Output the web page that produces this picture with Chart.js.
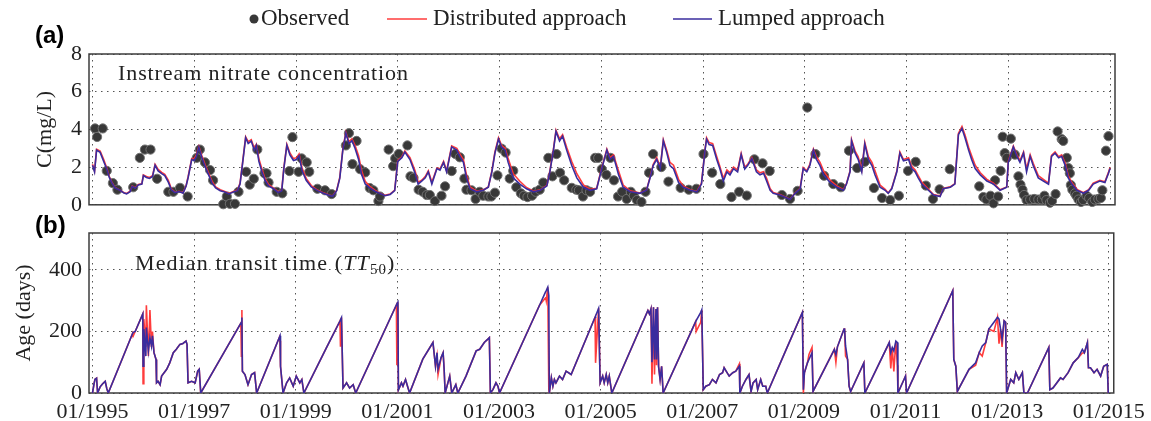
<!DOCTYPE html>
<html>
<head>
<meta charset="utf-8">
<script src="https://cdn.jsdelivr.net/npm/chart.js@4.4.1/dist/chart.umd.min.js"></script>
<style>
  html, body { margin: 0; padding: 0; background: #fff; }
  #wrap { position: relative; width: 1151px; height: 421px; overflow: hidden; }
  canvas { position: absolute; left: 0; }
  #concChart { top: 0; }
  #ageChart { top: 200px; }
</style>
</head>
<body>
<div id="wrap">
  <canvas id="concChart" width="1151" height="225"></canvas>
  <canvas id="ageChart" width="1151" height="221"></canvas>
</div>
<script>
// tick years shown on the shared time axis
const tickYears = [1995, 1997, 1999, 2001, 2003, 2005, 2007, 2009, 2011, 2013, 2015];

// (a) instream nitrate concentration, mg/L (decimal years)
const concYears = [
  1995.00, 1995.04, 1995.08, 1995.15, 1995.22, 1995.28, 1995.33, 1995.38, 1995.44, 1995.54,
  1995.62, 1995.67, 1995.74, 1995.78, 1995.84, 1995.90, 1995.97, 1996.00, 1996.06, 1996.12,
  1996.18, 1996.23, 1996.29, 1996.36, 1996.42, 1996.49, 1996.55, 1996.62, 1996.70, 1996.78,
  1996.84, 1996.88, 1996.95, 1997.00, 1997.04, 1997.09, 1997.15, 1997.21, 1997.28, 1997.35,
  1997.42, 1997.51, 1997.60, 1997.68, 1997.77, 1997.85, 1997.90, 1997.95, 1998.01, 1998.06,
  1998.12, 1998.18, 1998.22, 1998.27, 1998.33, 1998.39, 1998.46, 1998.56, 1998.65, 1998.72,
  1998.76, 1998.82, 1998.88, 1998.95, 1999.01, 1999.06, 1999.12, 1999.20, 1999.30, 1999.42,
  1999.55, 1999.65, 1999.72, 1999.80, 1999.86, 1999.92, 1999.98, 2000.04, 2000.10, 2000.16,
  2000.23, 2000.29, 2000.36, 2000.45, 2000.55, 2000.65, 2000.75, 2000.85, 2000.94, 2001.00,
  2001.08, 2001.14, 2001.24, 2001.34, 2001.40, 2001.47, 2001.54, 2001.60, 2001.67, 2001.77,
  2001.83, 2001.90, 2001.96, 2002.06, 2002.16, 2002.22, 2002.29, 2002.35, 2002.42, 2002.55,
  2002.68, 2002.78, 2002.85, 2002.91, 2002.98, 2003.04, 2003.11, 2003.17, 2003.27, 2003.40,
  2003.53, 2003.67, 2003.80, 2003.93, 2003.99, 2004.06, 2004.11, 2004.18, 2004.24, 2004.32,
  2004.42, 2004.52, 2004.65, 2004.78, 2004.91, 2005.01, 2005.11, 2005.17, 2005.24, 2005.34,
  2005.43, 2005.57, 2005.76, 2005.89, 2005.96, 2006.02, 2006.09, 2006.16, 2006.22, 2006.29,
  2006.35, 2006.42, 2006.52, 2006.61, 2006.75, 2006.88, 2006.97, 2007.04, 2007.07, 2007.12,
  2007.19, 2007.27, 2007.33, 2007.40, 2007.47, 2007.53, 2007.60, 2007.68, 2007.75, 2007.82,
  2007.88, 2007.96, 2008.05, 2008.12, 2008.19, 2008.25, 2008.32, 2008.38, 2008.51, 2008.65,
  2008.71, 2008.81, 2008.91, 2008.97, 2009.04, 2009.10, 2009.17, 2009.23, 2009.30, 2009.37,
  2009.50, 2009.63, 2009.76, 2009.82, 2009.89, 2009.92, 2009.99, 2010.05, 2010.12, 2010.18,
  2010.25, 2010.32, 2010.38, 2010.48, 2010.58, 2010.64, 2010.71, 2010.81, 2010.87, 2010.94,
  2011.04, 2011.10, 2011.17, 2011.23, 2011.30, 2011.40, 2011.53, 2011.66, 2011.72, 2011.86,
  2011.95, 2012.02, 2012.09, 2012.15, 2012.22, 2012.28, 2012.35, 2012.45, 2012.58, 2012.71,
  2012.84, 2012.97, 2013.00, 2013.10, 2013.17, 2013.23, 2013.30, 2013.36, 2013.43, 2013.49,
  2013.59, 2013.69, 2013.79, 2013.85, 2013.92, 2013.99, 2014.05, 2014.12, 2014.18, 2014.25,
  2014.35, 2014.48, 2014.58, 2014.67, 2014.80, 2014.90, 2014.97, 2015.00
];
const concLumped = [
  2.10, 1.75, 2.90, 2.78, 2.30, 1.90, 1.45, 1.18, 0.90, 0.77,
  0.62, 0.58, 0.70, 0.98, 0.88, 1.05, 1.10, 1.55, 1.45, 1.40,
  1.50, 2.10, 1.80, 1.65, 1.55, 1.20, 0.80, 0.65, 0.70, 0.62,
  1.00, 1.45, 2.40, 2.35, 2.55, 3.05, 2.50, 2.05, 1.60, 1.15,
  0.90, 0.75, 0.68, 0.58, 0.68, 0.75, 1.10, 2.20, 3.56, 3.25,
  3.38, 2.90, 3.15, 2.30, 1.75, 1.30, 1.00, 0.85, 0.65, 0.75,
  1.90, 3.15, 2.65, 2.35, 2.40, 2.60, 1.80, 1.30, 0.95, 0.75,
  0.60, 0.50, 0.45, 0.75, 1.40, 2.90, 3.80, 3.25, 3.40, 3.00,
  2.40, 1.60, 1.10, 0.90, 0.72, 0.60, 0.48, 0.55, 0.75, 2.30,
  2.50, 2.80, 2.40, 1.67, 1.10, 1.26, 1.43, 1.75, 1.10, 1.92,
  1.84, 2.25, 1.75, 3.07, 2.90, 2.57, 2.25, 1.43, 0.85, 0.69,
  0.77, 0.93, 1.75, 2.74, 3.48, 3.07, 2.90, 2.25, 1.43, 1.10,
  0.85, 0.69, 0.77, 1.00, 1.75, 2.90, 3.89, 3.39, 3.64, 2.90,
  2.08, 1.43, 0.93, 0.77, 0.85, 1.92, 2.90, 2.41, 2.57, 1.59,
  0.93, 0.69, 0.61, 0.77, 1.43, 2.08, 2.41, 1.92, 3.39, 2.74,
  2.08, 1.92, 1.18, 0.93, 0.77, 0.69, 1.10, 2.90, 3.48, 3.20,
  3.15, 2.40, 1.92, 1.26, 1.75, 1.59, 1.92, 1.75, 2.66, 1.90,
  2.10, 2.45, 1.75, 1.59, 1.67, 1.26, 0.77, 0.61, 0.52, 0.36,
  0.28, 0.61, 0.85, 1.92, 1.75, 2.08, 2.90, 2.41, 2.08, 1.59,
  1.18, 0.93, 0.77, 1.10, 1.75, 3.39, 2.74, 2.41, 1.75, 3.23,
  2.41, 2.08, 1.59, 0.93, 0.77, 0.61, 0.85, 1.75, 2.74, 2.33,
  2.41, 1.92, 1.75, 1.43, 1.10, 0.85, 0.52, 0.44, 0.85, 0.93,
  1.10, 3.72, 4.05, 3.56, 2.90, 2.41, 1.92, 1.59, 1.26, 1.10,
  0.77, 0.93, 2.25, 3.07, 2.57, 2.25, 2.74, 1.75, 2.57, 2.08,
  1.43, 1.26, 1.10, 2.57, 2.74, 2.49, 2.57, 2.08, 1.43, 1.10,
  0.77, 0.61, 0.77, 1.10, 1.26, 1.18, 1.67, 1.92
];
const concDistributed = [
  2.15, 1.80, 2.95, 2.85, 2.40, 1.95, 1.50, 1.20, 0.92, 0.78,
  0.64, 0.60, 0.72, 1.00, 0.90, 1.08, 1.12, 1.58, 1.50, 1.45,
  1.55, 2.15, 1.88, 1.72, 1.62, 1.30, 0.85, 0.67, 0.72, 0.64,
  1.02, 1.50, 2.45, 2.45, 2.65, 3.10, 2.60, 2.15, 1.70, 1.25,
  0.95, 0.80, 0.70, 0.60, 0.70, 0.78, 1.15, 2.25, 3.60, 3.35,
  3.45, 3.00, 3.20, 2.45, 1.90, 1.40, 1.08, 0.88, 0.68, 0.78,
  1.95, 3.20, 2.75, 2.45, 2.50, 2.70, 1.95, 1.40, 1.02, 0.78,
  0.62, 0.52, 0.47, 0.78, 1.45, 2.95, 3.85, 3.35, 3.50, 3.15,
  2.60, 1.80, 1.25, 0.98, 0.78, 0.62, 0.50, 0.57, 0.78, 2.35,
  2.55, 2.85, 2.50, 1.80, 1.20, 1.30, 1.50, 1.80, 1.20, 1.95,
  1.90, 2.30, 1.80, 3.12, 3.00, 2.70, 2.40, 1.60, 0.95, 0.72,
  0.79, 0.95, 1.80, 2.80, 3.55, 3.15, 3.00, 2.45, 1.65, 1.25,
  0.92, 0.72, 0.79, 1.03, 1.80, 2.95, 3.95, 3.50, 3.72, 3.05,
  2.30, 1.65, 1.05, 0.82, 0.88, 1.97, 2.95, 2.50, 2.65, 1.80,
  1.05, 0.74, 0.63, 0.79, 1.48, 2.13, 2.50, 2.00, 3.45, 2.85,
  2.25, 2.10, 1.35, 1.00, 0.80, 0.71, 1.15, 2.95, 3.55, 3.30,
  3.25, 2.55, 2.05, 1.40, 1.85, 1.70, 2.00, 1.85, 2.72, 2.00,
  2.15, 2.50, 1.85, 1.70, 1.75, 1.40, 0.85, 0.65, 0.54, 0.38,
  0.30, 0.63, 0.88, 1.97, 1.80, 2.15, 2.95, 2.55, 2.25, 1.80,
  1.30, 1.00, 0.80, 1.12, 1.80, 3.45, 2.85, 2.55, 1.85, 3.30,
  2.55, 2.25, 1.80, 1.05, 0.82, 0.63, 0.88, 1.80, 2.80, 2.40,
  2.50, 2.05, 1.85, 1.55, 1.20, 0.92, 0.55, 0.46, 0.87, 0.95,
  1.12, 3.78, 4.15, 3.70, 3.05, 2.60, 2.10, 1.70, 1.35, 1.15,
  0.80, 0.95, 2.30, 3.12, 2.65, 2.35, 2.80, 1.90, 2.65, 2.20,
  1.55, 1.35, 1.15, 2.62, 2.80, 2.55, 2.65, 2.20, 1.55, 1.18,
  0.82, 0.64, 0.80, 1.15, 1.30, 1.22, 1.72, 1.98
];

// (a) observed samples
const obsYears = [
  1995.05, 1995.09, 1995.20, 1995.28, 1995.40, 1995.49, 1995.80, 1995.93, 1996.03, 1996.14,
  1996.27, 1996.49, 1996.59, 1996.72, 1996.87, 1997.05, 1997.11, 1997.21, 1997.31, 1997.37,
  1997.57, 1997.64, 1997.70, 1997.80, 1997.87, 1998.02, 1998.09, 1998.17, 1998.24, 1998.38,
  1998.42, 1998.46, 1998.62, 1998.73, 1998.87, 1998.93, 1999.05, 1999.11, 1999.21, 1999.26,
  1999.42, 1999.57, 1999.70, 1999.98, 2000.04, 2000.11, 2000.19, 2000.26, 2000.36, 2000.45,
  2000.52, 2000.62, 2000.65, 2000.82, 2000.91, 2000.95, 2001.02, 2001.19, 2001.25, 2001.31,
  2001.41, 2001.49, 2001.57, 2001.63, 2001.73, 2001.86, 2001.93, 2002.06, 2002.13, 2002.22,
  2002.31, 2002.35, 2002.45, 2002.53, 2002.61, 2002.68, 2002.78, 2002.84, 2002.91, 2002.96,
  2003.04, 2003.12, 2003.20, 2003.27, 2003.33, 2003.42, 2003.48, 2003.55, 2003.64, 2003.71,
  2003.79, 2003.86, 2003.96, 2004.04, 2004.12, 2004.19, 2004.27, 2004.42, 2004.51, 2004.56,
  2004.64, 2004.71, 2004.78, 2004.88, 2004.94, 2005.01, 2005.10, 2005.18, 2005.25, 2005.33,
  2005.41, 2005.50, 2005.58, 2005.64, 2005.70, 2005.79, 2005.87, 2005.94, 2006.02, 2006.18,
  2006.32, 2006.56, 2006.72, 2006.87, 2007.01, 2007.18, 2007.34, 2007.56, 2007.71, 2007.86,
  2008.01, 2008.17, 2008.31, 2008.55, 2008.71, 2008.86, 2009.05, 2009.21, 2009.38, 2009.56,
  2009.71, 2009.87, 2010.03, 2010.18, 2010.36, 2010.52, 2010.68, 2010.85, 2011.03, 2011.18,
  2011.38, 2011.52, 2011.65, 2011.85, 2012.43, 2012.51, 2012.57, 2012.65, 2012.71, 2012.74,
  2012.80, 2012.85, 2012.89, 2012.93, 2012.97, 2013.05, 2013.13, 2013.20, 2013.24, 2013.28,
  2013.31, 2013.36, 2013.43, 2013.51, 2013.59, 2013.66, 2013.71, 2013.75, 2013.82, 2013.86,
  2013.93, 2013.97, 2014.05, 2014.08, 2014.15, 2014.18, 2014.21, 2014.23, 2014.26, 2014.31,
  2014.34, 2014.38, 2014.43, 2014.47, 2014.54, 2014.59, 2014.65, 2014.70, 2014.77, 2014.82,
  2014.85, 2014.92, 2014.97
];
const obsConc = [
  4.05, 3.60, 4.05, 1.80, 1.15, 0.80, 0.93, 2.49, 2.93, 2.93,
  1.38, 0.69, 0.69, 0.90, 0.44, 2.49, 2.93, 2.25, 1.84, 1.30,
  0.03, 0.44, 0.05, 0.05, 0.69, 1.75, 1.07, 1.38, 2.93, 1.67,
  1.67, 1.18, 0.69, 0.61, 1.79, 3.59, 1.75, 2.46, 2.25, 1.75,
  0.85, 0.77, 0.57, 3.15, 3.80, 2.16, 3.39, 1.89, 1.72, 0.89,
  0.77, 0.20, 0.44, 2.93, 2.05, 2.46, 2.70, 3.15, 1.51, 1.43,
  0.80, 0.69, 0.52, 0.52, 0.20, 0.48, 0.98, 1.79, 2.70, 2.52,
  1.39, 0.80, 0.77, 0.31, 0.69, 0.48, 0.44, 0.44, 0.64, 1.56,
  2.98, 2.77, 1.39, 1.80, 0.93, 0.61, 0.48, 0.41, 0.48, 0.69,
  0.80, 1.18, 2.49, 1.51, 2.69, 1.70, 1.30, 0.90, 0.80, 0.77,
  0.44, 0.77, 0.69, 2.49, 2.49, 1.89, 1.59, 2.49, 1.30, 0.44,
  0.69, 0.31, 0.69, 0.48, 0.25, 0.15, 0.69, 1.70, 2.69, 2.00,
  1.23, 0.90, 0.80, 0.85, 2.69, 1.70, 1.10, 0.41, 0.69, 0.49,
  2.41, 2.20, 1.79, 0.52, 0.31, 0.74, 5.16, 2.69, 1.54, 1.10,
  0.93, 2.87, 1.95, 2.28, 0.89, 0.36, 0.25, 0.48, 1.80, 2.28,
  1.02, 0.31, 0.82, 1.89, 0.98, 0.41, 0.28, 0.48, 0.08, 1.30,
  0.44, 1.80, 3.61, 2.74, 2.49, 3.51, 2.66, 1.51, 1.07, 0.80,
  0.52, 0.25, 0.28, 0.31, 0.28, 0.28, 0.48, 0.25, 0.11, 0.20,
  0.57, 3.89, 3.48, 3.39, 2.49, 1.95, 1.67, 1.05, 0.80, 0.61,
  0.48, 0.28, 0.15, 0.25, 0.48, 0.36, 0.15, 0.28, 0.31, 0.36,
  0.77, 2.87, 3.64
];

// (b) median transit time TT50, days
const ageYears = [
  1995.00, 1995.03, 1995.05, 1995.08, 1995.10, 1995.15, 1995.20, 1995.25, 1995.28, 1995.31,
  1995.60, 1995.79, 1995.80, 1995.84, 1995.99, 1995.995, 1996.01, 1996.05, 1996.06, 1996.10, 1996.13,
  1996.16, 1996.18, 1996.21, 1996.25, 1996.26, 1996.29, 1996.33, 1996.36, 1996.46, 1996.52,
  1996.59, 1996.65, 1996.72, 1996.78, 1996.84, 1996.86, 1996.88, 1996.95, 1997.02, 1997.07,
  1997.10, 1997.13, 1997.60, 1997.92, 1997.93, 1997.94, 1997.95, 1998.00, 1998.06, 1998.13, 1998.19,
  1998.23, 1998.68, 1998.69, 1998.70, 1998.75, 1998.82, 1998.88, 1998.95, 1999.01, 1999.08, 1999.12,
  1999.16, 1999.60, 1999.87, 1999.88, 1999.90, 1999.93, 2000.00, 2000.06, 2000.13, 2000.18, 2000.98, 2000.99,
  2001.01, 2001.02, 2001.08, 2001.11, 2001.16, 2001.21, 2001.24, 2001.50, 2001.70, 2001.75,
  2001.78, 2001.80, 2001.86, 2001.90, 2001.92, 2001.94, 2002.03, 2002.07, 2002.15, 2002.19,
  2002.35, 2002.55, 2002.62, 2002.71, 2002.78, 2002.81, 2002.83, 2002.88, 2002.94, 2002.98,
  2003.01, 2003.80, 2003.92, 2003.93, 2003.96, 2003.98, 2003.99, 2004.03, 2004.06, 2004.09, 2004.12,
  2004.19, 2004.25, 2004.32, 2004.42, 2004.89, 2004.90, 2004.96, 2004.99, 2005.04, 2005.07, 2005.11,
  2005.14, 2005.17, 2005.22, 2005.93, 2005.96, 2005.99, 2006.01, 2006.04, 2006.06, 2006.09,
  2006.10, 2006.12, 2006.14, 2006.17, 2006.20, 2006.23, 2006.87, 2006.88, 2006.97, 2006.99, 2007.02,
  2007.07, 2007.14, 2007.20, 2007.27, 2007.34, 2007.40, 2007.43, 2007.47, 2007.53, 2007.60,
  2007.66, 2007.73, 2007.74, 2007.79, 2007.86, 2007.92, 2007.96, 2008.00, 2008.06, 2008.09,
  2008.15, 2008.19, 2008.25, 2008.28, 2008.65, 2008.97, 2008.99, 2009.01, 2009.07, 2009.10,
  2009.16, 2009.18, 2009.60, 2009.63, 2009.66, 2009.79, 2009.80, 2009.82, 2009.86, 2009.89,
  2009.92, 2010.18, 2010.20, 2010.68, 2010.71, 2010.74, 2010.77, 2010.81, 2010.84, 2010.85,
  2010.91, 2010.97, 2011.00, 2011.02, 2011.80, 2011.93, 2011.95, 2011.99, 2012.02, 2012.25,
  2012.38, 2012.45, 2012.51, 2012.58, 2012.64, 2012.74, 2012.81, 2012.84, 2012.87, 2012.90,
  2012.94, 2012.97, 2012.99, 2013.07, 2013.13, 2013.17, 2013.23, 2013.30, 2013.33, 2013.40,
  2013.82, 2013.84, 2013.90, 2013.95, 2014.05, 2014.10, 2014.20, 2014.30, 2014.40, 2014.48,
  2014.52, 2014.58, 2014.60, 2014.64, 2014.71, 2014.77, 2014.84, 2014.90, 2014.97, 2014.99
];
const ageLumped = [
  0, 30, 45, 48, 0, 20, 30, 38, 15, 0,
  117, 194, 197, 200, 257, 87, 208, 120, 213, 137, 180,
  153, 186, 131, 109, 33, 38, 27, 55, 77, 98,
  131, 142, 158, 161, 169, 158, 33, 38, 33, 71,
  77, 0, 135, 227, 230, 245, 71, 60, 27, 60, 66,
  0, 182, 186, 87, 0, 33, 49, 22, 55, 33, 44,
  0, 146, 234, 238, 245, 16, 33, 16, 27, 0, 286, 290,
  295, 10, 33, 22, 44, 16, 0, 110, 164, 87,
  131, 77, 115, 131, 77, 0, 55, 0, 27, 0,
  55, 137, 142, 164, 175, 180, 0, 11, 33, 22,
  0, 286, 330, 333, 344, 317, 0, 50, 22, 44, 33,
  55, 44, 71, 60, 246, 250, 275, 33, 55, 33, 60,
  33, 55, 0, 268, 257, 273, 100, 279, 109, 273,
  109, 279, 87, 44, 87, 0, 232, 235, 262, 270, 11,
  22, 27, 44, 33, 60, 66, 82, 71, 55, 66,
  71, 87, 0, 22, 44, 60, 5, 33, 44, 11,
  44, 22, 22, 0, 141, 262, 11, 66, 98, 109,
  131, 5, 142, 125, 150, 208, 210, 153, 109, 22,
  5, 98, 0, 164, 131, 148, 137, 169, 164, 0,
  22, 44, 55, 0, 285, 333, 109, 87, 5, 77,
  98, 131, 153, 164, 208, 230, 246, 240, 208, 175,
  235, 230, 0, 44, 33, 66, 44, 66, 0, 0,
  148, 11, 16, 27, 49, 44, 66, 98, 115, 142,
  131, 164, 82, 82, 66, 77, 55, 87, 93, 0
];
const ageDistributed = [
  0, 30, 45, 48, 0, 20, 30, 38, 15, 0,
  117, 194, 185, 200, 257, 30, 240, 150, 285, 120, 270,
  150, 200, 131, 109, 33, 38, 27, 55, 77, 98,
  131, 142, 158, 161, 169, 158, 33, 38, 33, 71,
  77, 0, 135, 227, 120, 270, 71, 60, 27, 60, 66,
  0, 182, 170, 87, 0, 33, 49, 22, 55, 33, 44,
  0, 146, 234, 150, 245, 16, 33, 16, 27, 0, 286, 90,
  295, 10, 33, 22, 44, 16, 0, 110, 164, 87,
  120, 60, 115, 131, 77, 0, 55, 0, 27, 0,
  55, 137, 142, 164, 175, 180, 0, 11, 33, 22,
  0, 286, 310, 300, 344, 10, 0, 50, 22, 44, 33,
  55, 44, 71, 60, 246, 98, 275, 33, 55, 33, 60,
  33, 55, 0, 268, 257, 273, 30, 279, 60, 273,
  90, 279, 87, 44, 87, 0, 232, 200, 230, 270, 11,
  22, 27, 44, 33, 60, 66, 82, 71, 55, 66,
  71, 95, 0, 22, 44, 60, 5, 33, 44, 11,
  44, 22, 22, 0, 141, 262, 0, 66, 98, 125,
  148, 5, 142, 100, 150, 208, 210, 120, 109, 22,
  5, 98, 0, 164, 80, 148, 70, 169, 90, 0,
  22, 44, 55, 0, 285, 333, 109, 87, 5, 77,
  90, 131, 120, 164, 208, 200, 246, 160, 208, 150,
  235, 230, 0, 44, 33, 66, 44, 66, 0, 0,
  148, 11, 16, 27, 49, 44, 66, 98, 115, 130,
  131, 164, 82, 82, 66, 77, 55, 87, 93, 0
];

const SERIF = '"Liberation Serif", "Times New Roman", serif';
const SANS = '"Liberation Sans", Arial, sans-serif';
const RED = 'rgba(255, 50, 50, 0.95)';
const BLUE = 'rgb(58, 44, 158)';
const X_MIN = 1994.931;
const X_MAX = 2015.098;

const toPoints = (xs, ys) => xs.map((x, i) => ({ x: x, y: ys[i] }));

// box round the plot area
const framePlugin = {
  id: 'frame',
  beforeDatasetsDraw(chart) {
    const { ctx, chartArea: a } = chart;
    ctx.save();
    ctx.strokeStyle = '#3c3c3c';
    ctx.lineWidth = 1.5;
    ctx.strokeRect(a.left, a.top, a.right - a.left, a.bottom - a.top);
    ctx.restore();
  }
};

// legend row on top of panel (a), styles taken from the datasets
const legendPlugin = {
  id: 'topLegend',
  afterDraw(chart) {
    const ctx = chart.ctx;
    const ds = chart.data.datasets;
    const y = 19;
    ctx.save();
    ctx.font = '23px ' + SERIF;
    ctx.textBaseline = 'middle';
    ctx.fillStyle = ds[0].pointBackgroundColor;
    ctx.beginPath();
    ctx.arc(254, y, 4.5, 0, Math.PI * 2);
    ctx.fill();
    ctx.fillStyle = '#222';
    ctx.fillText(ds[0].label, 261, y);
    [[ds[1], 387, 427, 433], [ds[2], 673, 712, 718]].forEach(([d, x0, x1, tx]) => {
      ctx.strokeStyle = d.borderColor;
      ctx.lineWidth = 1.5;
      ctx.beginPath();
      ctx.moveTo(x0, y);
      ctx.lineTo(x1, y);
      ctx.stroke();
      ctx.fillText(d.label, tx, y);
    });
    ctx.restore();
  }
};

const panelTextA = {
  id: 'panelTextA',
  afterDraw(chart) {
    const ctx = chart.ctx;
    ctx.save();
    ctx.fillStyle = '#000';
    ctx.font = 'bold 24px ' + SANS;
    ctx.textBaseline = 'middle';
    ctx.fillText('(a)', 35, 36);
    ctx.fillStyle = '#222';
    ctx.font = '22px ' + SERIF;
    ctx.textBaseline = 'alphabetic';
    ctx.letterSpacing = '0.9px';
    ctx.fillText('Instream nitrate concentration', 118, 80);
    ctx.restore();
  }
};

const panelTextB = {
  id: 'panelTextB',
  afterDraw(chart) {
    const ctx = chart.ctx;
    ctx.save();
    ctx.fillStyle = '#000';
    ctx.font = 'bold 24px ' + SANS;
    ctx.textBaseline = 'middle';
    ctx.fillText('(b)', 35, 26);
    ctx.fillStyle = '#222';
    ctx.textBaseline = 'alphabetic';
    ctx.letterSpacing = '1.1px';
    let x = 135;
    const y = 70;
    const parts = [
      ['Median transit time (', '22px ' + SERIF, 0],
      ['TT', 'italic 22px ' + SERIF, 0],
      ['50', '15px ' + SERIF, 4],
      [')', '22px ' + SERIF, 0]
    ];
    parts.forEach(([t, f, dy]) => {
      ctx.font = f;
      ctx.fillText(t, x, y + dy);
      x += ctx.measureText(t).width;
    });
    ctx.restore();
  }
};

const tickFont = { family: SERIF, size: 22 };
const gridStyle = { color: '#555', lineWidth: 1, drawTicks: false };
const dotted = { display: false, dash: [1.5, 4.5] };

function xScale(showLabels, height) {
  return {
    type: 'linear',
    min: X_MIN,
    max: X_MAX,
    grid: gridStyle,
    border: dotted,
    ticks: {
      display: showLabels,
      font: tickFont,
      color: '#222',
      padding: 6,
      autoSkip: false,
      maxRotation: 0,
      callback: v => '01/' + v
    },
    afterBuildTicks: s => { s.ticks = tickYears.map(v => ({ value: v })); },
    afterFit: s => { s.height = height; }
  };
}

const common = {
  responsive: false,
  animation: false,
  devicePixelRatio: 1,
  events: [],
  plugins: { legend: { display: false }, tooltip: { enabled: false } }
};

new Chart(document.getElementById('concChart'), {
  type: 'scatter',
  data: {
    datasets: [
      {
        label: 'Observed',
        data: toPoints(obsYears, obsConc),
        pointRadius: 4.6,
        pointBackgroundColor: '#383838',
        pointBorderColor: '#707070',
        pointBorderWidth: 1,
        clip: false,
        order: 3
      },
      {
        label: 'Distributed approach',
        data: toPoints(concYears, concDistributed),
        showLine: true,
        borderColor: RED,
        borderWidth: 1.6,
        pointRadius: 0,
        order: 2
      },
      {
        label: 'Lumped approach',
        data: toPoints(concYears, concLumped),
        showLine: true,
        borderColor: BLUE,
        borderWidth: 1.6,
        pointRadius: 0,
        order: 1
      }
    ]
  },
  options: Object.assign({}, common, {
    layout: { padding: { top: 54, right: 36, bottom: 9, left: 0 } },
    scales: {
      x: xScale(false, 0),
      y: {
        min: 0,
        max: 8,
        grid: gridStyle,
        border: dotted,
        ticks: { stepSize: 2, font: tickFont, color: '#222', padding: 7 },
        title: { display: true, text: 'C(mg/L)', font: tickFont, color: '#222', padding: { top: 32, bottom: 0 } },
        afterFit: s => { s.width = 89; }
      }
    }
  }),
  plugins: [framePlugin, legendPlugin, panelTextA]
});

new Chart(document.getElementById('ageChart'), {
  type: 'scatter',
  data: {
    datasets: [
      {
        label: 'Distributed approach',
        data: toPoints(ageYears, ageDistributed),
        showLine: true,
        borderColor: RED,
        borderWidth: 1.6,
        pointRadius: 0,
        order: 2
      },
      {
        label: 'Lumped approach',
        data: toPoints(ageYears, ageLumped),
        showLine: true,
        borderColor: BLUE,
        borderWidth: 1.6,
        pointRadius: 0,
        order: 1
      }
    ]
  },
  options: Object.assign({}, common, {
    layout: { padding: { top: 33, right: 36, bottom: 0, left: 0 } },
    scales: {
      x: xScale(true, 28),
      y: {
        min: 0,
        max: 520,
        grid: gridStyle,
        border: dotted,
        ticks: { stepSize: 200, includeBounds: false, font: tickFont, color: '#222', padding: 7 },
        title: { display: true, text: 'Age (days)', font: tickFont, color: '#222', padding: { top: 11, bottom: 0 } },
        afterFit: s => { s.width = 89; }
      }
    }
  }),
  plugins: [framePlugin, panelTextB]
});
</script>
</body>
</html>
